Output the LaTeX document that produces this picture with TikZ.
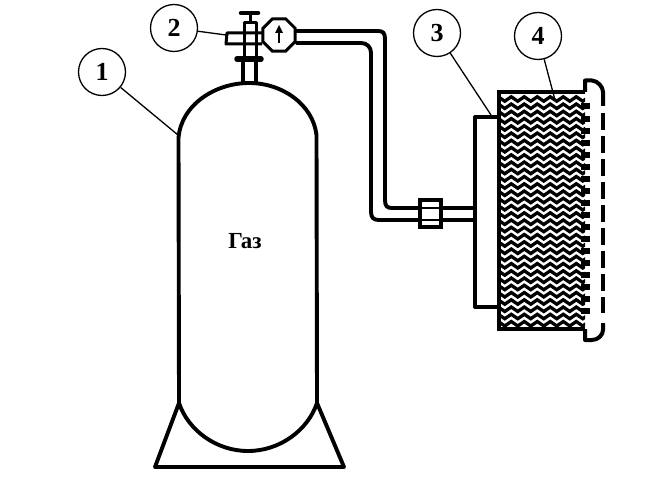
\documentclass[tikz,border=0pt]{standalone}
\usepackage{fontspec}
\usetikzlibrary{shapes.geometric}
\setmainfont{Liberation Serif}
\tikzset{
  callout/.style={circle,draw=black,line width=1.3pt,minimum size=47pt,inner sep=0pt,fill=white,font=\bfseries\fontsize{26}{26}\selectfont},
  leader/.style={line width=1.3pt},
  heavy/.style={line width=3.9pt,line join=round,line cap=round},
  medium/.style={line width=3pt,line join=round},
  wave/.style={line width=3.3pt,line join=miter}
}
\begin{document}
\begin{tikzpicture}[x=1pt,y=-1pt]
\useasboundingbox (0,0) rectangle (652,478);
\fill[white] (0,0) rectangle (652,478);
% cylinder
\draw[heavy] (179,403) -- (178.5,138) .. controls (181,105) and (215,83) .. (249,83)
  .. controls (283,83) and (313,105) .. (316.5,135) -- (317,403)
  .. controls (308,430) and (280,451) .. (248,451)
  .. controls (216,451) and (188,430) .. (179,403) -- cycle;
% stand
\draw[heavy] (179,403) -- (155,467) -- (344,467) -- (317,403);
% neck and valve
\draw[heavy] (243,83) -- (243,60) (256,83) -- (256,60);
\draw[line width=5.5pt,line cap=round] (237,59) -- (261,59);
\draw[line width=4.5pt,line cap=round] (241,13) -- (258,13);
\draw[line width=3pt] (250,13) -- (250,22);
\draw[medium] (244,58) -- (244,23) -- (256,23) -- (256,58);
\draw[medium] (262,33) -- (227,33) -- (226,44) -- (262,44);
% gauge
\node[regular polygon,regular polygon sides=8,draw=black,line width=3pt,minimum size=35pt,inner sep=0pt,fill=white] (gauge) at (279,35) {};
\draw[line width=2.2pt] (279,43) -- (279,31);
\fill (279,25) -- (283,33) -- (275,33) -- cycle;
% pipe
\draw[heavy] (gauge.east |- 0,31) -- (378,31) .. controls (383,31) and (385,33) .. (385,39) -- (385,200) .. controls (385,206) and (387,208) .. (392,208) -- (475,208);
\draw[heavy] (gauge.east |- 0,43) -- (361,43) .. controls (367,43) and (371,47) .. (371,53) -- (371,212) .. controls (371,218) and (374,220) .. (379,220) -- (475,220);
% coupling
\node[draw=black,line width=3.3pt,fill=white,minimum width=21pt,minimum height=27pt,inner sep=0pt] (coupling) at (430.5,213.5) {};
\draw[line width=2.5pt] (coupling.west |- 0,208) -- (coupling.east |- 0,208) (coupling.west |- 0,220) -- (coupling.east |- 0,220);
% panel 3
\draw[heavy] (498,117) -- (475,117) -- (475,307) -- (498,307);
% panel 4: waves
\begin{scope}
\clip (499,92) rectangle (585,329);
\foreach \r in {0,...,32} {
  \pgfmathsetmacro{\yy}{99+7.25*\r}
  \draw[wave] (495,\yy)
    \foreach \k in {0,...,7} { -- ++(3.25,-2.2) -- ++(3.25,2.2) -- ++(3.25,2.2) -- ++(3.25,-2.2) };
}
\end{scope}
\draw[line width=4.6pt,line join=miter] (585,92) -- (499,92) -- (499,329) -- (585,329);
% teeth
\foreach \r in {0,...,17} {
  \pgfmathsetmacro{\yt}{106.5+12.05*\r}
  \fill (581,\yt-3) rectangle (589.5,\yt+3);
}
% flange
\draw[line width=4pt,line join=round] (585,92) -- (585,80.5) -- (592,80.5) .. controls (598,81) and (603,87) .. (603,92) -- (603,106);
\draw[line width=4.2pt,dash pattern=on 17pt off 6pt] (603,113) -- (603,313);
\draw[line width=4pt,line join=round] (603,323) -- (603,330) .. controls (603,335) and (598,340) .. (592,340) -- (585,340) -- (585,329);
% callouts
\node[callout] (n1) at (102,72) {1};
\node[callout] (n2) at (174,28) {2};
\node[callout] (n3) at (437,33) {3};
\node[callout] (n4) at (538,36) {4};
\coordinate (t1) at (178,135);
\coordinate (t2) at (226,35);
\coordinate (t3) at (491,115);
\coordinate (t4) at (555,100);
\draw[leader] (n1) -- (t1);
\draw[leader] (n2) -- (t2);
\draw[leader] (n3) -- (t3);
\draw[leader] (n4) -- (t4);
\node[font=\bfseries\fontsize{23}{23}\selectfont,inner sep=0pt] (gas) at (245,241) {Газ};
\end{tikzpicture}
\end{document}
